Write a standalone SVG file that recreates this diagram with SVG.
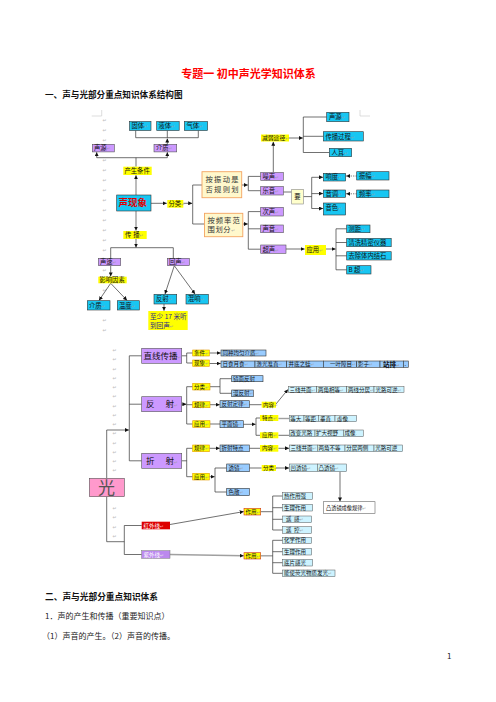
<svg xmlns="http://www.w3.org/2000/svg" width="496" height="702" viewBox="0 0 496 702">
<defs>
<style>
text{font-family:"Noto Sans CJK SC","Noto Sans",sans-serif;fill:#111}
.t{font-size:6.3px}
.s{font-size:5.5px}
.pm{font-family:"DejaVu Sans",sans-serif;fill:#999;font-size:4.5px}
.cy{fill:#18c6f2;stroke:#333;stroke-width:.6}
.pu{fill:#cc99ff;stroke:#555;stroke-width:.6}
.ye{fill:#ffff00}
.yo{fill:#ffff00;stroke:#e39a00;stroke-width:.6}
.yr{fill:#ffff00;stroke:#d03020;stroke-width:.6}
.cr{fill:#fff8cc;stroke:#f4a460;stroke-width:.9}
.lb{fill:#99ccff;stroke:#333;stroke-width:.6}
.lc{fill:#cdf3ff;stroke:#555;stroke-width:.5}
.ln{fill:none;stroke:#333;stroke-width:.7}
.lg{fill:none;stroke:#a0a0a0;stroke-width:1.4}
.dt{fill:none;stroke:#333;stroke-width:.7;stroke-dasharray:1.2 1.2}
.mk{fill:#bbb;font-family:"DejaVu Sans",sans-serif;font-size:5px}
.cm{fill:none;stroke:#c8c8c8;stroke-width:.6}
.w{fill:#fff}
</style>
<marker id="a" viewBox="0 0 6 6" refX="6" refY="3" markerWidth="4" markerHeight="4" markerUnits="userSpaceOnUse" orient="auto"><path d="M0,0L6,3L0,6z" fill="#111"/></marker>
</defs>
<rect width="496" height="702" fill="#fff"/>

<g id="page-text">
<text x="248.5" y="78" text-anchor="middle" style="font-size:11px;font-weight:bold;fill:#ff0000">专题一 初中声光学知识体系</text>
<text x="45" y="98" style="font-size:8.6px;font-weight:bold">一、声与光部分重点知识体系结构图</text>
<text x="45" y="599.5" style="font-size:8.7px;font-weight:bold">二、声与光部分重点知识体系</text>
<text x="45" y="619" style="font-size:8px;fill:#222">1．声的产生和传播（重要知识点）</text>
<text x="42" y="639" style="font-size:8px;fill:#222">（1）声音的产生。（2）声音的传播。</text>
<text x="447" y="659" style="font-size:8px;fill:#222">1</text>
</g>

<g id="marks">
<path class="cm" d="M91.7,116H101.7V110"/>
<path class="cm" d="M360,110V116H370"/>
<text class="mk" x="102.5" y="122">↵</text><text class="mk" x="102.5" y="132">↵</text><text class="mk" x="102.5" y="142">↵</text>
<text class="mk" x="102.5" y="162">↵</text><text class="mk" x="102.5" y="172">↵</text><text class="mk" x="102.5" y="182">↵</text>
<text class="mk" x="102.5" y="192">↵</text><text class="mk" x="102.5" y="202">↵</text><text class="mk" x="102.5" y="212">↵</text>
<text class="mk" x="102.5" y="222">↵</text><text class="mk" x="102.5" y="232">↵</text><text class="mk" x="102.5" y="242">↵</text>
<text class="mk" x="102.5" y="252">↵</text><text class="mk" x="102.5" y="272">↵</text><text class="mk" x="102.5" y="292">↵</text>
<text class="mk" x="102.5" y="322">↵</text><text class="mk" x="102.5" y="332">↵</text>
<text class="mk" x="112.5" y="352">↵</text><text class="mk" x="112.5" y="361.2">↵</text><text class="mk" x="112.5" y="370.5">↵</text>
<text class="mk" x="112.5" y="379.7">↵</text><text class="mk" x="112.5" y="389">↵</text><text class="mk" x="112.5" y="398.2">↵</text>
<text class="mk" x="112.5" y="407.5">↵</text><text class="mk" x="112.5" y="416.7">↵</text><text class="mk" x="112.5" y="426">↵</text>
<text class="mk" x="112.5" y="435.2">↵</text><text class="mk" x="112.5" y="444.5">↵</text><text class="mk" x="112.5" y="453.7">↵</text>
<text class="mk" x="112.5" y="463">↵</text><text class="mk" x="112.5" y="472.2">↵</text>
<text class="mk" x="112.5" y="510">↵</text><text class="mk" x="112.5" y="519">↵</text><text class="mk" x="112.5" y="528.5">↵</text>
<text class="mk" x="112.5" y="537.5">↵</text>
</g>

<g id="connectors">
<path class="ln" d="M135.7,130.5V137.7H198.3V130.5M167.3,137.7V130.5"/>
<path class="ln" d="M167.3,144.3V138.5" marker-end="url(#a)"/>
<path class="ln" d="M136,166.7V157.7M96.7,157.7H167.3"/>
<path class="ln" d="M96.7,157.7V152.2" marker-end="url(#a)"/>
<path class="ln" d="M167.3,157.7V152.2" marker-end="url(#a)"/>
<path class="lg" d="M136,195V175.3" marker-end="url(#a)"/>
<path class="ln" d="M151,203.3H166.8" marker-end="url(#a)"/>
<path class="ln" d="M183.3,203.3H192.2" marker-end="url(#a)"/>
<path class="ln" d="M202,185H192.7V224H204.5"/>
<path class="ln" d="M241.7,185H247.8" marker-end="url(#a)"/>
<path class="ln" d="M260.7,176.4H248.3V190.7H260.7"/>
<path class="ln" d="M273.3,172.5V141.8" marker-end="url(#a)"/>
<path class="ln" d="M289,138H302.8" marker-end="url(#a)"/>
<path class="ln" d="M326.7,117H303.3V152.5H329.3M303.3,136.3H323.3"/>
<path class="ln" d="M283.3,192H291.7"/>
<path class="ln" d="M303.3,196.6H311.7M311.7,177.3V208.5"/>
<path class="ln" d="M311.7,177.3H323" marker-end="url(#a)"/>
<path class="ln" d="M311.7,193.6H323" marker-end="url(#a)"/>
<path class="ln" d="M311.7,208.5H323" marker-end="url(#a)"/>
<path class="dt" d="M356.7,176H346.2" marker-end="url(#a)"/>
<path class="dt" d="M356.7,193.8H346.2" marker-end="url(#a)"/>
<path class="ln" d="M242.8,224H247.8" marker-end="url(#a)"/>
<path class="ln" d="M260.7,211.6H248.3V249.2H260.7M248.3,228.8H260.7"/>
<path class="ln" d="M286,249H304.6" marker-end="url(#a)"/>
<path class="ln" d="M326,249H335.6" marker-end="url(#a)"/>
<path class="ln" d="M346.7,228.8H336V269.8H346.7M336,242.5H346.7M336,255.8H346.7"/>
<path class="lg" d="M136,211V230.6" marker-end="url(#a)"/>
<path class="ln" d="M136,239V247.5" marker-end="url(#a)"/>
<path class="ln" d="M110.7,258.3V247.7H173.3V258.3"/>
<path class="ln" d="M110.7,265.7V276.4" marker-end="url(#a)"/>
<path class="ln" d="M110.7,283.3L99,300.4" marker-end="url(#a)"/>
<path class="ln" d="M110.7,283.3L127,300.4" marker-end="url(#a)"/>
<path class="ln" d="M174.3,265.7L165,294" marker-end="url(#a)"/>
<path class="ln" d="M174.3,265.7L195,294" marker-end="url(#a)"/>
<path class="ln" d="M164,304V310.7" marker-end="url(#a)"/>

<path class="ln" d="M106.7,478.3V430H128.9" marker-end="url(#a)"/>
<path class="ln" d="M106.7,496.7V541.7H124.3M141.7,525.5H124.3V554.5H141.7"/>
<path class="ln" d="M141.7,355.8H129.3V460.8H141.7M129.3,404.2H141.7"/>
<path class="ln" d="M181.7,355.8H186.7M192.7,353H186.7V363H192.7"/>
<path class="ln" d="M209.3,353H220.7" marker-end="url(#a)"/>
<path class="ln" d="M209.3,363.5H220.7" marker-end="url(#a)"/>
<path class="ln" d="M181.7,404.2H186.4" marker-end="url(#a)"/>
<path class="ln" d="M192.7,386.7H186.7V424H192.7M186.7,404.7H192.7"/>
<path class="ln" d="M210,386.7H220M231.7,378.7H220V393.3H231.7"/>
<path class="ln" d="M210,404.7H219.7" marker-end="url(#a)"/>
<path class="ln" d="M249.3,404.7H261.7"/>
<path class="ln" d="M276,404L288,389.4" marker-end="url(#a)"/>
<path class="ln" d="M210,424H220"/>
<path class="ln" d="M243.3,424.3H255.6" marker-end="url(#a)"/>
<path class="ln" d="M260,418H256V435.3H260"/>
<path class="lg" d="M278.3,418.5H289.3"/>
<path class="ln" d="M278.3,435.3H289.3"/>
<path class="ln" d="M181.7,460.8H186.7M192.7,448.3H186.7V476.7H192.7"/>
<path class="ln" d="M209.3,448.3H219.7" marker-end="url(#a)"/>
<path class="ln" d="M249.3,448.3H260"/>
<path class="ln" d="M278.3,448.3H289" marker-end="url(#a)"/>
<path class="ln" d="M209.3,476.7H214.6" marker-end="url(#a)"/>
<path class="ln" d="M226.7,468H215V492H226.7"/>
<path class="ln" d="M249.3,468H261.7"/>
<path class="ln" d="M276,468H289" marker-end="url(#a)"/>
<path class="ln" d="M340,471.7V501.4" marker-end="url(#a)"/>
<path class="ln" d="M170,524.5L243.7,511.6" marker-end="url(#a)"/>
<path class="lg" d="M170,554.5L243.7,555.8" marker-end="url(#a)"/>
<path class="ln" d="M260.7,511.7H272.7M282.7,496H272.7V530H282.7M272.7,507.7H282.7M272.7,519.3H282.7"/>
<path class="lg" d="M260.7,555.8H272.7"/>
<path class="ln" d="M282.7,540.3H272.7V573.3H282.7M272.7,551.7H282.7M272.7,562.7H282.7"/>
</g>

<g id="n-guti"><rect class="cy" x="129.5" y="121.5" width="21.5" height="9"/><text class="t" x="131.5" y="128.3">固体<tspan class="pm">↵</tspan></text></g>
<g id="n-yeti"><rect class="cy" x="156.7" y="121.5" width="22.5" height="9"/><text class="t" x="158.5" y="128.3">液体<tspan class="pm">↵</tspan></text></g>
<g id="n-qiti"><rect class="cy" x="184.3" y="121.5" width="23.3" height="9"/><text class="t" x="186.5" y="128.3">气体<tspan class="pm">↵</tspan></text></g>
<g id="n-shengyuan1"><rect class="pu" x="92.3" y="144.3" width="22" height="7.6"/><text class="t" x="94" y="150.4">声源<tspan class="pm">↵</tspan></text></g>
<g id="n-jiezhi1"><rect class="pu" x="154" y="144.3" width="22.7" height="7.6"/><text class="t" x="156" y="150.4">介质<tspan class="pm">↵</tspan></text></g>
<g id="n-chansheng"><rect class="ye" x="123.3" y="166.7" width="28.4" height="8.3"/><text class="t" x="124.5" y="173.2">产生条件</text></g>
<g id="n-shengxianxiang"><rect class="cy" x="116.7" y="195" width="34.3" height="16"/><text x="118.5" y="206.4" style="font-size:9.5px;font-weight:bold;fill:#e00000">声现象</text></g>
<g id="n-fenlei1"><rect class="ye" x="167.3" y="200" width="16" height="7.7"/><text class="t" x="168.5" y="206">分类<tspan class="pm">↵</tspan></text></g>
<g id="n-anzhendong"><rect class="cr" x="202" y="171.7" width="39.7" height="26"/><text x="205.5" y="182" style="font-size:7.3px;letter-spacing:1.3px;fill:#333">按振动是</text><text x="205.5" y="192" style="font-size:7.3px;letter-spacing:1.3px;fill:#333">否规则划</text></g>
<g id="n-anpinlv"><rect class="cr" x="204.5" y="213.3" width="38.3" height="23.4"/><text x="207.5" y="222.5" style="font-size:7.3px;letter-spacing:1px;fill:#333">按频率范</text><text x="207.5" y="232" style="font-size:7.3px;letter-spacing:.6px;fill:#333">围划分<tspan class="pm">↵</tspan></text></g>
<g id="n-zaosheng"><rect class="pu" x="260.7" y="172.5" width="22.6" height="7.8"/><text class="t" x="262.5" y="178.7">噪声<tspan class="pm">↵</tspan></text></g>
<g id="n-yueyin"><rect class="pu" x="260.7" y="186.5" width="22.6" height="8.5"/><text class="t" x="262.5" y="193">乐音<tspan class="pm">↵</tspan></text></g>
<g id="n-jianruo"><rect class="ye" x="261" y="134.5" width="28" height="7"/><text x="262" y="140.3" style="font-size:5.8px">减弱途径<tspan class="pm">↵</tspan></text></g>
<g id="n-shengyuan2"><rect class="cy" x="326.7" y="112.3" width="22.3" height="9.4"/><text class="t" x="329" y="119.3">声源<tspan class="pm">↵</tspan></text></g>
<g id="n-chuanboguocheng"><rect class="cy" x="323.3" y="131.7" width="40" height="9.3"/><text class="t" x="325.5" y="138.7">传播过程<tspan class="pm">↵</tspan></text></g>
<g id="n-ren-er"><rect class="cy" x="329.3" y="148.3" width="22.4" height="8.4"/><text class="t" x="331.5" y="154.8">人耳<tspan class="pm">↵</tspan></text></g>
<g id="n-yao"><rect x="291.7" y="189.3" width="11.6" height="14.7" fill="#ffffcc" stroke="#888" stroke-width=".6"/><text class="t" x="294.3" y="199">要</text></g>
<g id="n-xiangdu"><rect class="cy" x="323.3" y="173.3" width="22.4" height="7.7"/><text class="t" x="325.5" y="179.4">响度<tspan class="pm">↵</tspan></text></g>
<g id="n-yindiao"><rect class="cy" x="323.3" y="190" width="22.4" height="7.3"/><text class="t" x="325.5" y="196">音调<tspan class="pm">↵</tspan></text></g>
<g id="n-yinse"><rect class="cy" x="323.3" y="203" width="22.4" height="12"/><text class="t" x="325.5" y="209.5">音色<tspan class="pm">↵</tspan></text></g>
<g id="n-zhenfu"><rect class="cy" x="356.7" y="171.7" width="32.3" height="8.3"/><text class="t" x="359" y="178.2">振幅<tspan class="pm">↵</tspan></text></g>
<g id="n-pinlv"><rect class="cy" x="356.7" y="190" width="32.3" height="7.7"/><text class="t" x="359" y="196.2">频率<tspan class="pm">↵</tspan></text></g>
<g id="n-cisheng"><rect class="pu" x="260.7" y="207.3" width="22.6" height="8.7"/><text class="t" x="262.5" y="214">次声<tspan class="pm">↵</tspan></text></g>
<g id="n-shengyin"><rect class="pu" x="260.7" y="225" width="22.6" height="7.7"/><text class="t" x="262.5" y="231.2">声音<tspan class="pm">↵</tspan></text></g>
<g id="n-chaosheng"><rect class="pu" x="260.7" y="245" width="25.3" height="8.3"/><text class="t" x="262.5" y="251.5">超声<tspan class="pm">↵</tspan></text></g>
<g id="n-yingyong1"><rect class="ye" x="305" y="245" width="21" height="10"/><text class="t" x="306.5" y="252.3">应用<tspan class="pm">↵</tspan></text></g>
<g id="n-ceju"><rect class="cy" x="346.7" y="225" width="23.3" height="7.7"/><text class="t" x="348.5" y="231.2">测距<tspan class="pm">↵</tspan></text></g>
<g id="n-qingxi"><rect class="cy" x="346.7" y="238.3" width="44.5" height="8.4"/><text class="t" x="348.5" y="244.8">清洗精密仪器</text></g>
<g id="n-quchu"><rect class="cy" x="346.7" y="251.7" width="44.5" height="8.3"/><text class="t" x="348.5" y="258.2">去除体内结石</text></g>
<g id="n-bchao"><rect class="cy" x="346.7" y="265.7" width="24.3" height="8.3"/><text class="t" x="348.5" y="272.2">B 超<tspan class="pm">↵</tspan></text></g>
<g id="n-chuanbo"><rect class="ye" x="123.3" y="231" width="23.4" height="8"/><text class="t" x="125" y="237.3">传<tspan dx="2">播</tspan><tspan class="pm">↵</tspan></text></g>
<g id="n-shengsu"><rect class="pu" x="98.3" y="258.3" width="22.4" height="7.4"/><text class="t" x="100" y="264.3">声速<tspan class="pm">↵</tspan></text></g>
<g id="n-huisheng"><rect class="pu" x="167.3" y="258.3" width="22" height="7.4"/><text class="t" x="169" y="264.3">回声<tspan class="pm">↵</tspan></text></g>
<g id="n-yingxiang"><rect class="ye" x="98.3" y="276.7" width="28.4" height="6.6"/><text class="t" x="99.5" y="282.3">影响因素</text></g>
<g id="n-jiezhi2"><rect class="cy" x="87.3" y="300.7" width="22.7" height="9.3"/><text class="t" x="89" y="307.6">介质<tspan class="pm">↵</tspan></text></g>
<g id="n-wendu"><rect class="cy" x="117.3" y="300.7" width="22" height="9.3"/><text class="t" x="119" y="307.6">温度<tspan class="pm">↵</tspan></text></g>
<g id="n-fanshe1"><rect class="cy" x="154" y="294.3" width="22.7" height="9.7"/><text class="t" x="156" y="301.4">反射<tspan class="pm">↵</tspan></text></g>
<g id="n-hunxiang"><rect class="cy" x="186" y="294.3" width="22.3" height="9.7"/><text class="t" x="188" y="301.4">混响<tspan class="pm">↵</tspan></text></g>
<g id="n-zhishao"><rect class="ye" x="148.3" y="311" width="39.4" height="19"/><text x="150" y="318.8" style="font-size:6.6px;fill:#2a2a88">至少 17 米听</text><text x="150" y="327.8" style="font-size:6.6px;fill:#2a2a88">到回声<tspan class="pm">↵</tspan></text></g>

<g id="n-zhixian"><rect class="pu" x="141.7" y="348.3" width="40" height="15"/><text x="143.5" y="358.8" style="font-size:8.5px">直线传播<tspan class="pm">↵</tspan></text></g>
<g id="n-fanshe2"><rect class="pu" x="141.7" y="396.7" width="40" height="15"/><text x="146" y="407.2" style="font-size:8.5px">反</text><text x="165.5" y="407.2" style="font-size:8.5px">射<tspan class="pm">↵</tspan></text></g>
<g id="n-zheshe"><rect class="pu" x="141.7" y="453.3" width="40" height="15"/><text x="146" y="463.8" style="font-size:8.5px">折</text><text x="165.5" y="463.8" style="font-size:8.5px">射<tspan class="pm">↵</tspan></text></g>
<g id="n-guang"><rect x="89.3" y="478.3" width="35" height="18.4" fill="#ff99cc" stroke="#555" stroke-width=".6"/><text x="98" y="494" style="font-size:17px;fill:#555">光</text></g>
<g id="n-tiaojian"><rect class="yo" x="192.7" y="350" width="16.6" height="6"/><text class="s" x="194" y="355">条件<tspan class="pm">↵</tspan></text></g>
<g id="n-xianxiang"><rect class="yo" x="192.7" y="360" width="16.6" height="6.3"/><text class="s" x="194" y="365.2">现象<tspan class="pm">↵</tspan></text></g>
<g id="n-tongzhong"><rect class="lb" x="221" y="350" width="45" height="6"/><text class="s" x="222.5" y="355">同种均匀介质<tspan class="pm">↵</tspan></text></g>
<g id="n-xianxiang-row">
<rect class="lb" x="221" y="361" width="34" height="6.3"/><text class="s" x="222.5" y="366.2">日食月食<tspan class="pm">↵</tspan></text>
<rect class="lb" x="255" y="361" width="31.7" height="6.3"/><text class="s" x="256.5" y="366.2">激光准直<tspan class="pm">↵</tspan></text>
<rect class="lb" x="286.7" y="361" width="36.6" height="6.3"/><text class="s" x="288.5" y="366.2">井底之蛙<tspan class="pm">↵</tspan></text>
<rect class="lb" x="323.3" y="361" width="33.4" height="6.3"/><text class="s" x="330" y="366.2">一叶障目<tspan class="pm">↵</tspan></text>
<rect class="lb" x="356.7" y="361" width="23.3" height="6.3"/><text class="s" x="358" y="366.2">影子<tspan class="pm">↵</tspan></text>
<rect class="lb" x="380" y="361" width="23.3" height="6.3"/><text x="383" y="366.6" style="font-size:6.5px;font-weight:bold">站排<tspan class="pm">↵</tspan></text>
<rect class="lb" x="403.3" y="361" width="5" height="6.3"/><text class="s" x="404.5" y="366.2">.</text>
</g>
<g id="n-fenlei2"><rect class="yo" x="192.7" y="383.3" width="17.3" height="6.7"/><text class="s" x="194" y="388.7">分类<tspan class="pm">↵</tspan></text></g>
<g id="n-guilv1"><rect class="yo" x="192.7" y="401.7" width="17.3" height="6"/><text class="s" x="194" y="406.7">规律<tspan class="pm">↵</tspan></text></g>
<g id="n-yingyong2"><rect class="yo" x="192.7" y="420.7" width="17.3" height="6.6"/><text class="s" x="194" y="426">应用<tspan class="pm">↵</tspan></text></g>
<g id="n-jingmian"><rect class="lb" x="231.7" y="375.7" width="31.3" height="6"/><text class="s" x="233" y="380.7">镜面反射</text></g>
<g id="n-manfanshe"><rect class="lb" x="231.7" y="390" width="21.6" height="6.7"/><text class="s" x="233" y="395.3">漫反射<tspan class="pm">↵</tspan></text></g>
<g id="n-fanshedinglv"><rect class="lb" x="220" y="400.7" width="29.3" height="7"/><text class="s" x="221.5" y="406.2">反射定律<tspan class="pm">↵</tspan></text></g>
<g id="n-neirong1"><rect class="ye" x="261.7" y="401.7" width="14.3" height="6"/><text class="s" x="263" y="406.7">内容<tspan class="pm">↵</tspan></text></g>
<g id="n-fanshe-row">
<rect class="lc" x="288.3" y="386.7" width="28.4" height="5.6"/><text class="s" x="289.5" y="391.5">三线共面<tspan class="pm">↵</tspan></text>
<rect class="lc" x="316.7" y="386.7" width="30" height="5.6"/><text class="s" x="318" y="391.5">两角相等<tspan class="pm">↵</tspan></text>
<rect class="lc" x="346.7" y="386.7" width="27.3" height="5.6"/><text class="s" x="348" y="391.5">两线分居<tspan class="pm">↵</tspan></text>
<rect class="lc" x="374" y="386.7" width="30" height="5.6"/><text class="s" x="375.5" y="391.5">光路可逆<tspan class="pm">↵</tspan></text>
</g>
<g id="n-pingmianjing"><rect class="lb" x="220" y="420.7" width="23.3" height="7"/><text class="s" x="221.5" y="426.2">平面镜<tspan class="pm">↵</tspan></text></g>
<g id="n-tedian"><rect class="ye" x="260" y="415" width="18.3" height="6"/><text class="s" x="262" y="420">特点<tspan class="pm">↵</tspan></text></g>
<g id="n-yingyong3"><rect class="ye" x="260" y="432.3" width="18.3" height="6"/><text class="s" x="262" y="437.3">应用<tspan class="pm">↵</tspan></text></g>
<g id="n-tedian-row">
<rect class="lc" x="289.3" y="415.7" width="14.7" height="6"/><text class="s" x="290.3" y="420.7">等大<tspan class="pm">.</tspan></text>
<rect class="lc" x="304" y="415.7" width="14.3" height="6"/><text class="s" x="305" y="420.7">等距<tspan class="pm">.</tspan></text>
<rect class="lc" x="318.3" y="415.7" width="16.7" height="6"/><text class="s" x="320" y="420.7">垂直<tspan class="pm">.</tspan></text>
<rect class="lc" x="335" y="415.7" width="21.7" height="6"/><text class="s" x="337" y="420.7">虚像<tspan class="pm">.</tspan></text>
</g>
<g id="n-pm-yingyong-row">
<rect class="lc" x="289.3" y="430" width="25.7" height="6.7"/><text class="s" x="290.3" y="435.3">改变光路</text>
<rect class="lc" x="315" y="430" width="28.3" height="6.7"/><text class="s" x="316" y="435.3">扩大视野</text>
<rect class="lc" x="343.3" y="430" width="20" height="6.7"/><text class="s" x="344.5" y="435.3">成像<tspan class="pm">.</tspan></text>
</g>
<g id="n-guilv2"><rect class="yo" x="192.7" y="445" width="16.6" height="6.7"/><text class="s" x="194" y="450.3">规律<tspan class="pm">↵</tspan></text></g>
<g id="n-yingyong4"><rect class="yo" x="192.7" y="473.3" width="16.6" height="6.7"/><text class="s" x="194" y="478.6">应用<tspan class="pm">↵</tspan></text></g>
<g id="n-zheshetedian"><rect class="lb" x="220" y="445" width="29.3" height="6.7"/><text class="s" x="221.5" y="450.3">折射特点</text></g>
<g id="n-neirong2"><rect class="ye" x="260" y="445" width="18.3" height="6.7"/><text class="s" x="262" y="450.3">内容<tspan class="pm">↵</tspan></text></g>
<g id="n-zheshe-row">
<rect class="lc" x="289.3" y="445" width="28" height="6.7"/><text class="s" x="290.5" y="450.3">三线共面<tspan class="pm">↵</tspan></text>
<rect class="lc" x="317.3" y="445" width="27.7" height="6.7"/><text class="s" x="318.5" y="450.3">两角不等</text>
<rect class="lc" x="345" y="445" width="29" height="6.7"/><text class="s" x="346.3" y="450.3">分居两侧</text>
<rect class="lc" x="374" y="445" width="28.7" height="6.7"/><text class="s" x="375.3" y="450.3">光路可逆</text>
</g>
<g id="n-toujing"><rect class="lb" x="226.7" y="464" width="22.6" height="7.7"/><text class="s" x="228.5" y="469.8">透镜<tspan class="pm">↵</tspan></text></g>
<g id="n-sesan"><rect class="lb" x="226.7" y="488.3" width="22.6" height="7.4"/><text class="s" x="228.5" y="494">色散<tspan class="pm">↵</tspan></text></g>
<g id="n-fenlei3"><rect class="ye" x="261.7" y="465" width="14.3" height="6"/><text class="s" x="263" y="470">分类<tspan class="pm">↵</tspan></text></g>
<g id="n-toujing-row">
<rect class="lc" x="289.3" y="464" width="28" height="7.7"/><text class="s" x="290.5" y="469.8">凹透镜<tspan class="pm">↵</tspan></text>
<rect class="lc" x="317.3" y="464" width="29.4" height="7.7"/><text class="s" x="318.5" y="469.8">凸透镜<tspan class="pm">↵</tspan></text>
</g>
<g id="n-chengxiang"><rect x="323.3" y="501.7" width="51.7" height="11.6" fill="#fff" stroke="#666" stroke-width=".6"/><text x="326" y="509.5" style="font-size:5.2px">凸透镜成像规律<tspan class="pm">↵</tspan></text></g>
<g id="n-hongwai"><rect x="141.7" y="521.7" width="28.3" height="7.6" fill="#dd0000"/><text class="s w" x="143.5" y="527.5">红外线<tspan class="pm" style="fill:#fcc">↵</tspan></text></g>
<g id="n-ziwai"><rect x="141.7" y="550.7" width="28.3" height="7.6" fill="#bb88ee" stroke="#777" stroke-width=".5"/><text class="s w" x="143.5" y="556.5">紫外线<tspan class="pm" style="fill:#eee">↵</tspan></text></g>
<g id="n-zuoyong1"><rect class="yr" x="244" y="508.3" width="16.7" height="6.7"/><text class="s" x="245.5" y="513.6">作用<tspan class="pm">↵</tspan></text></g>
<g id="n-zuoyong2"><rect class="yr" x="244" y="552.7" width="16.7" height="6.3"/><text class="s" x="245.5" y="557.8">作用<tspan class="pm">↵</tspan></text></g>
<g id="n-hongwai-list">
<rect class="lc" x="282.7" y="492.7" width="30" height="6.6"/><text class="s" x="284" y="498">热作用强</text>
<rect class="lc" x="282.7" y="504.3" width="30" height="6.7"/><text class="s" x="284" y="509.6">生理作用</text>
<rect class="lc" x="282.7" y="516" width="29" height="6.7"/><text class="s" x="286" y="521.3">遥<tspan dx="2.5">感</tspan><tspan class="pm">↵</tspan></text>
<rect class="lc" x="282.7" y="526.7" width="29" height="6.6"/><text class="s" x="286" y="532">遥<tspan dx="2.5">控</tspan><tspan class="pm">↵</tspan></text>
</g>
<g id="n-ziwai-list">
<rect class="lc" x="282.7" y="537.3" width="29" height="6"/><text class="s" x="284" y="542.3">化学作用</text>
<rect class="lc" x="282.7" y="548.3" width="29" height="6.7"/><text class="s" x="284" y="553.6">生理作用</text>
<rect class="lc" x="282.7" y="559.3" width="30" height="6.7"/><text class="s" x="284" y="564.6">底片感光</text>
<rect class="lc" x="282.7" y="570" width="52.3" height="6.7"/><text class="s" x="284" y="575.3">能使荧光物质发光<tspan class="pm">↵</tspan></text>
</g>
</svg>
